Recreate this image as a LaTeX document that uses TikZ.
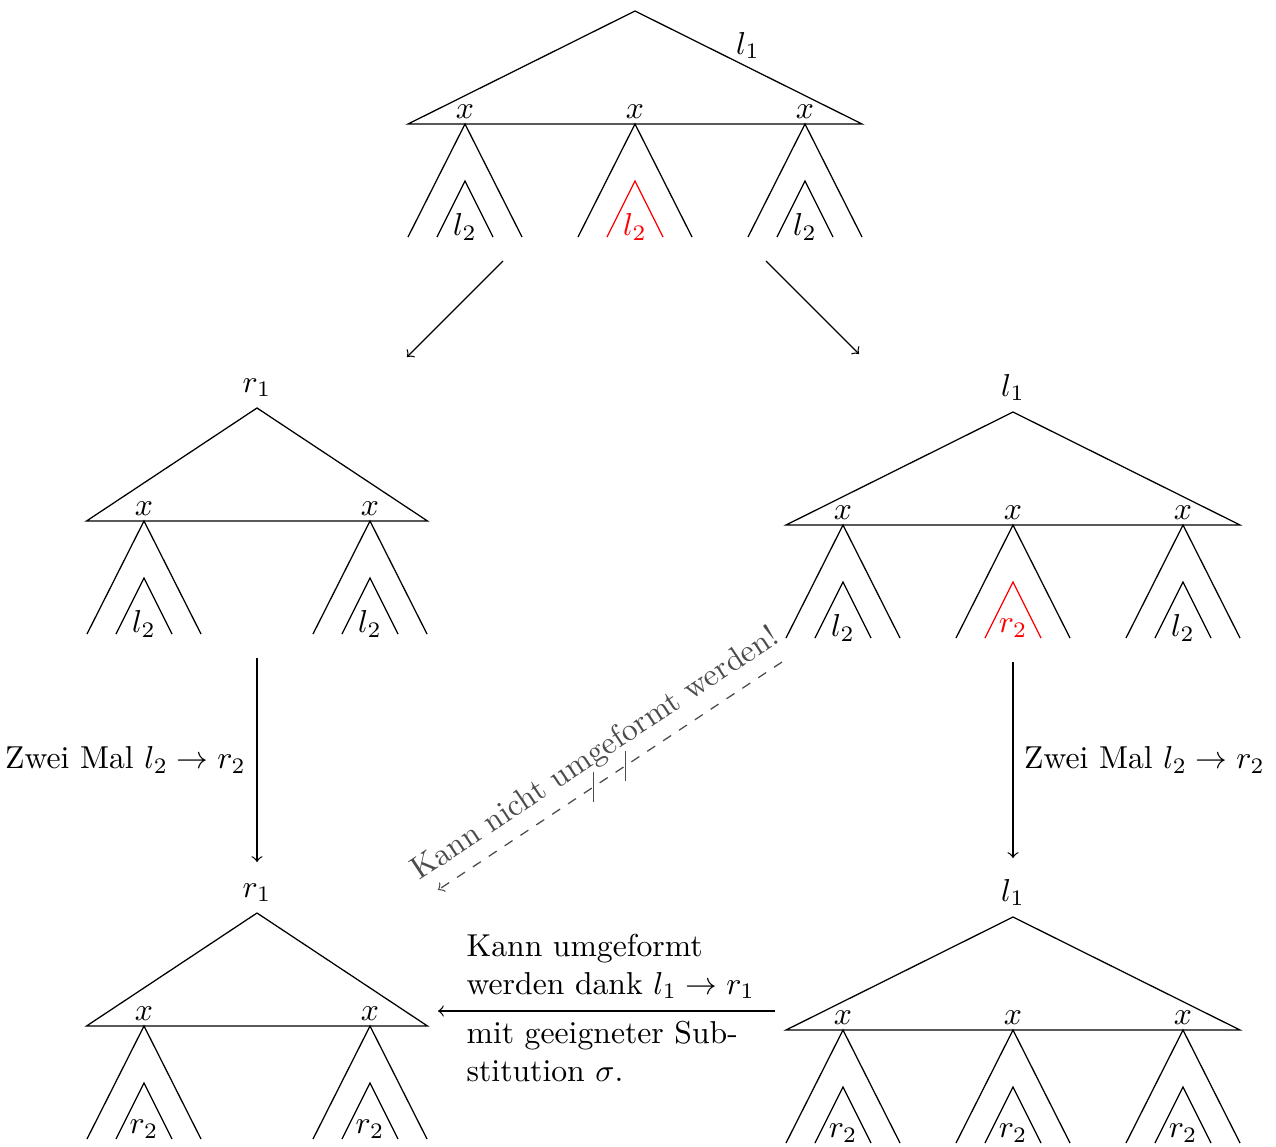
\documentclass[tikz,border=0pt]{standalone}
\usetikzlibrary{calc}
\newcommand\mysub[5]{% x, ytop, label, colour, name
  \draw ({#1-57},{#2+113}) -- (#1,#2) -- ({#1+57},{#2+113});
  \draw[#4] ({#1-28},{#2+113}) -- (#1,{#2+57}) -- ({#1+28},{#2+113});
  \node[#4] (#5) at (#1,{#2+103}) {$#3$};
}
\newcommand\mybig[5]{% apex x, apex y, half width, name, label
  \draw ({#1-#3},{#2+113}) -- (#1,#2) coordinate (#4apex) -- ({#1+#3},{#2+113}) -- cycle;
}
\newcommand\myx[3]{% x, base y, name
  \node[anchor=base] (#3) at (#1,{#2-6}) {$x$};
}
\begin{document}
\begin{tikzpicture}[x=0.3155pt,y=-0.3155pt,
  gr/.style={black!70},
  arr/.style={->},
  txt/.style={anchor=base west,inner sep=0pt}]
\useasboundingbox (0,0) rectangle (1276,1146);

% top tree
\mybig{635}{11}{227}{t}{}
\node[anchor=base] (tl) at (748,54) {$l_1$};
\myx{465}{124}{tx1}\myx{635}{124}{tx2}\myx{805}{124}{tx3}
\mysub{465}{124}{l_2}{black}{ts1}
\mysub{635}{124}{l_2}{red}{ts2}
\mysub{805}{124}{l_2}{black}{ts3}

% middle left
\mybig{257}{408}{170.5}{ml}{}
\node[above] (mll) at (mlapex) {$r_1$};
\myx{144}{521}{mlx1}\myx{370}{521}{mlx2}
\mysub{144}{521}{l_2}{black}{mls1}
\mysub{370}{521}{l_2}{black}{mls2}

% middle right
\mybig{1013}{412}{227}{mr}{}
\node[above] (mrl) at (mrapex) {$l_1$};
\myx{843}{525}{mrx1}\myx{1013}{525}{mrx2}\myx{1183}{525}{mrx3}
\mysub{843}{525}{l_2}{black}{mrs1}
\mysub{1013}{525}{r_2}{red}{mrs2}
\mysub{1183}{525}{l_2}{black}{mrs3}

% bottom left
\mybig{257}{913}{170.5}{bl}{}
\node[above] (bll) at (blapex) {$r_1$};
\myx{144}{1026}{blx1}\myx{370}{1026}{blx2}
\mysub{144}{1026}{r_2}{black}{bls1}
\mysub{370}{1026}{r_2}{black}{bls2}

% bottom right
\mybig{1013}{917}{227}{br}{}
\node[above] (brl) at (brapex) {$l_1$};
\myx{843}{1030}{brx1}\myx{1013}{1030}{brx2}\myx{1183}{1030}{brx3}
\mysub{843}{1030}{r_2}{black}{brs1}
\mysub{1013}{1030}{r_2}{black}{brs2}
\mysub{1183}{1030}{r_2}{black}{brs3}

% arrow end points
\coordinate (a1s) at (503,261); \coordinate (a1e) at (407,357);
\coordinate (a2s) at (766,261); \coordinate (a2e) at (859,354);
\coordinate (a3s) at (257,658); \coordinate (a3e) at (257,862);
\coordinate (a4s) at (1013,662); \coordinate (a4e) at (1013,858);
\coordinate (a5s) at (775,1011); \coordinate (a5e) at (438,1011);
\coordinate (a6s) at (782,662); \coordinate (a6e) at (438,890);

\draw[arr] (a1s) -- (a1e);
\draw[arr] (a2s) -- (a2e);
\draw[arr] (a3s) -- node[left] (lab3) {Zwei Mal $l_2\to r_2$} (a3e);
\draw[arr] (a4s) -- node[right] (lab4) {Zwei Mal $l_2\to r_2$} (a4e);
\draw[arr] (a5s) -- (a5e);
\node[txt] (k1) at (466,956) {Kann umgeformt};
\node[txt] (k2) at (466,994) {werden dank $l_1\to r_1$};
\node[txt] (k3) at (466,1043) {mit geeigneter Sub-};
\node[txt] (k4) at (466,1081) {stitution $\sigma$.};

\draw[arr,gr,dashed] (a6s) -- node[midway,sloped,above,gr] (lab6) {Kann nicht umgeformt werden!} (a6e);
\draw[gr] ($(a6s)!0.456!(a6e)+(0,-15)$) -- ($(a6s)!0.456!(a6e)+(0,15)$);
\draw[gr] ($(a6s)!0.547!(a6e)+(0,-15)$) -- ($(a6s)!0.547!(a6e)+(0,15)$);
\end{tikzpicture}
\end{document}
